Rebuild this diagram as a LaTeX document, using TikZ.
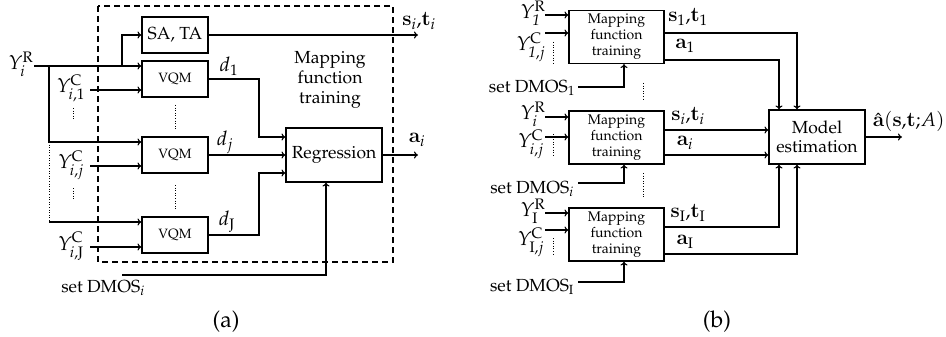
\documentclass[tikz,border=0pt]{standalone}
\usepackage[T1]{fontenc}
\usepackage{mathpazo}
\DeclareMathAlphabet{\mathcb}{OT1}{cmr}{bx}{n}
\usetikzlibrary{arrows.meta}
\begin{document}
\begin{tikzpicture}[x=1pt,y=-1pt,line width=1.1pt,
  font=\fontsize{17.5}{20}\selectfont,
  box/.style={draw,inner sep=0pt,align=center},
  vqm/.style={box,minimum width=66pt,minimum height=36pt,font=\fontsize{13.5}{16}\selectfont},
  mft/.style={box,minimum width=95pt,minimum height=53pt,font=\fontsize{14}{16}\selectfont},
  arr/.style={-{To[length=4pt,width=7pt]}},
  dotline/.style={line width=1pt,dash pattern=on 1pt off 1.6pt},
  dashline/.style={line width=1.1pt,dash pattern=on 6pt off 4pt},
  lbl/.style={inner sep=0pt},
  mlbl/.style={inner sep=0pt,font=\fontsize{20}{22}\selectfont},
  captxt/.style={inner sep=0pt,font=\fontsize{23}{26}\selectfont}]
\useasboundingbox (0,0) rectangle (946,337);
% ---------------- panel (a)
\node[box,minimum width=66pt,minimum height=36pt] (sa) at (175,35) {SA, TA};
\node[vqm] (v1) at (175,79) {VQM};
\node[vqm] (vj) at (175,155) {VQM};
\node[vqm] (vJ) at (175,235) {VQM};
\node[box,minimum width=96pt,minimum height=54pt] (reg) at (334,155) {Regression};
\node[align=center,lbl] (mfta) at (330,80) {Mapping\\function\\training};
\node[mlbl] (yir) at (21,64) {$Y_i^{\mathrm{R}}$};
\node[mlbl] (yc1) at (71,88) {$Y_{i,1}^{\mathrm{C}}$};
\node[mlbl] (ycj) at (71,165) {$Y_{i,j}^{\mathrm{C}}$};
\node[mlbl] (ycJ) at (71,246) {$Y_{i,\mathrm{J}}^{\mathrm{C}}$};
\node[mlbl] (d1) at (229,66) {$d_1$};
\node[mlbl] (dj) at (225,142) {$d_j$};
\node[mlbl] (dJ) at (227,222) {$d_{\mathrm{J}}$};
\node[mlbl] (sti) at (419,21) {$\mathcb{s}_i{,}\mathcb{t}_i$};
\node[mlbl] (ai) at (417,140) {$\mathcb{a}_i$};
\node[lbl] (dmosa) at (103,288) {set DMOS$_i$};
\node[captxt] (capa) at (226,322) {(a)};
\draw[dashline] (98,6) rectangle (393,262);
\coordinate (ya) at (34,66);
\coordinate (br) at (49,66);
\coordinate (bj) at (49,142);
\coordinate (bJ) at (49,222);
\coordinate (bs) at (122,66);
\coordinate (c1) at (90,90);
\coordinate (cj) at (90,166);
\coordinate (cJ) at (90,247);
\coordinate (xa) at (259,0);
\coordinate (oa) at (418,0);
\coordinate (dm) at (122,275);
\coordinate (dx) at (326,275);
\draw[arr] (ya) -- (ya -| v1.west);
\draw[arr] (bs) |- (sa.west);
\draw[arr] (br) -- (bj) -- (bj -| vj.west);
\draw[dotline] (bj) -- (bJ);
\draw[arr] (bJ) -- (bJ -| vJ.west);
\draw[arr] (c1) -- (c1 -| v1.west);
\draw[arr] (cj) -- (cj -| vj.west);
\draw[arr] (cJ) -- (cJ -| vJ.west);
\draw[arr] (v1.east) -- (v1.east -| xa) -- (xa |- 0,137) -- (reg.west |- 0,137);
\draw[arr] (vj.east) -- (reg.west);
\draw[arr] (vJ.east) -- (vJ.east -| xa) -- (xa |- 0,173) -- (reg.west |- 0,173);
\draw[arr] (sa.east) -- (sa.east -| oa);
\draw[arr] (reg.east) -- (reg.east -| oa);
\draw[arr] (dm) -- (dx) -- (dx |- reg.south);
\draw[dotline] (175,105) -- (175,130);
\draw[dotline] (175,185) -- (175,210);
\draw[dotline] (73,108) -- (73,120);
\draw[dotline] (73,188) -- (73,199);
% ---------------- panel (b)
\node[mft] (m1) at (616.5,37) {Mapping\\function\\training};
\node[mft] (mi) at (616.5,137.5) {Mapping\\function\\training};
\node[mft] (mI) at (616.5,234.5) {Mapping\\function\\training};
\node[box,minimum width=96pt,minimum height=54pt,font=\fontsize{17.5}{19}\selectfont] (me) at (817,137) {Model\\estimation};
\node[mlbl] (y1r) at (533,13) {$Y_{\mathit{1}}^{\mathrm{R}}$};
\node[mlbl] (y1c) at (531,47) {$Y_{\mathit{1},j}^{\mathrm{C}}$};
\node[mlbl] (yibr) at (533,114) {$Y_i^{\mathrm{R}}$};
\node[mlbl] (yibc) at (531,144) {$Y_{i,j}^{\mathrm{C}}$};
\node[mlbl] (yIr) at (533,211) {$Y_{\mathrm{I}}^{\mathrm{R}}$};
\node[mlbl] (yIc) at (531,242) {$Y_{\mathrm{I},j}^{\mathrm{C}}$};
\node[lbl] (dmos1) at (532,88) {set DMOS$_1$};
\node[lbl] (dmosi) at (532,189) {set DMOS$_i$};
\node[lbl] (dmosI) at (532,287) {set DMOS$_{\mathrm{I}}$};
\node[mlbl] (st1) at (688,17) {$\mathcb{s}_1{,}\mathcb{t}_1$};
\node[mlbl] (a1) at (685,46) {$\mathcb{a}_1$};
\node[mlbl] (stib) at (688,116) {$\mathcb{s}_i{,}\mathcb{t}_i$};
\node[mlbl] (aib) at (685,143) {$\mathcb{a}_i$};
\node[mlbl] (stI) at (688,213) {$\mathcb{s}_{\mathrm{I}}{,}\mathcb{t}_{\mathrm{I}}$};
\node[mlbl] (aI) at (685,242) {$\mathcb{a}_{\mathrm{I}}$};
\node[mlbl,anchor=east,font=\fontsize{19.5}{22}\selectfont] (ahat) at (945,121) {$\hat{\mathcb{a}}(\mathcb{s}{,}\mathcb{t}{;}A)$};
\node[captxt] (capb) at (717,322) {(b)};
\coordinate (in1) at (545,15);
\coordinate (in2) at (545,33);
\coordinate (in3) at (545,117);
\coordinate (in4) at (545,137);
\coordinate (in5) at (545,213);
\coordinate (in6) at (545,230);
\draw[arr] (in1) -- (in1 -| m1.west);
\draw[arr] (in2) -- (in2 -| m1.west);
\draw[arr] (in3) -- (in3 -| mi.west);
\draw[arr] (in4) -- (in4 -| mi.west);
\draw[arr] (in5) -- (in5 -| mI.west);
\draw[arr] (in6) -- (in6 -| mI.west);
\coordinate (s1) at (578,87);
\coordinate (s2) at (578,183);
\coordinate (s3) at (578,282);
\coordinate (sx) at (624,0);
\draw[arr] (s1) -- (s1 -| sx) -- (sx |- m1.south);
\draw[arr] (s2) -- (s2 -| sx) -- (sx |- mi.south);
\draw[arr] (s3) -- (s3 -| sx) -- (sx |- mI.south);
\coordinate (xo) at (797,0);
\coordinate (xi) at (779,0);
\draw[arr] (m1.east |- 0,33) -- (xo |- 0,33) -- (xo |- me.north);
\draw[arr] (m1.east |- 0,60) -- (xi |- 0,60) -- (xi |- me.north);
\draw[arr] (mi.east |- 0,130) -- (me.west |- 0,130);
\draw[arr] (mi.east |- 0,155) -- (me.west |- 0,155);
\draw[arr] (mI.east |- 0,227) -- (xi |- 0,227) -- (xi |- me.south);
\draw[arr] (mI.east |- 0,254) -- (xo |- 0,254) -- (xo |- me.south);
\coordinate (ob) at (902,0);
\draw[arr] (me.east) -- (me.east -| ob);
\draw[dotline] (553,42) -- (553,63);
\draw[dotline] (553,134) -- (553,155);
\draw[dotline] (553,238) -- (553,255);
\draw[dotline] (643,83) -- (643,100);
\draw[dotline] (643,173) -- (643,198);
\end{tikzpicture}
\end{document}
